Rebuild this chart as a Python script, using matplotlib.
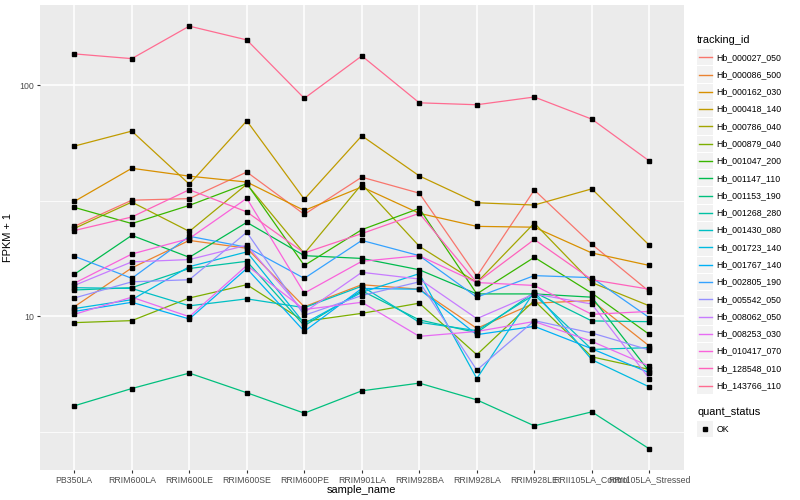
import matplotlib.pyplot as plt
from matplotlib.patches import Rectangle
from matplotlib.ticker import NullLocator

plt.rcParams['font.family'] = ['Liberation Sans', 'DejaVu Sans']

samples = ["PB350LA", "RRIM600LA", "RRIM600LE", "RRIM600SE", "RRIM600PE",
           "RRIM901LA", "RRIM928BA", "RRIM928LA", "RRIM928LE",
           "RRII105LA_Control", "RRII105LA_Stressed"]

# FPKM + 1, one list per gene (same order as samples)
hb_000027_050 = [24.5, 31.8, 32.3, 42.1, 27.6, 40.0, 34.1, 14.9, 35.2, 20.5, 12.8]
hb_000086_500 = [11.0, 16.2, 21.3, 19.7, 11.0, 13.7, 13.1, 8.87, 11.4, 11.7, 7.44]
hb_000162_030 = [31.4, 43.7, 40.4, 38.1, 28.7, 36.3, 27.9, 24.5, 24.3, 18.8, 16.6]
hb_000418_140 = [54.5, 63.3, 37.3, 70.1, 32.1, 60.4, 40.5, 31.0, 30.3, 35.6, 20.3]
hb_000786_040 = [24.0, 31.2, 23.3, 37.3, 18.7, 37.3, 20.1, 14.0, 25.3, 14.0, 11.1]
hb_000879_040 = [9.39, 9.58, 12.0, 13.7, 9.51, 10.3, 11.4, 6.82, 11.7, 6.68, 5.89]
hb_001047_200 = [29.6, 25.2, 30.2, 37.5, 16.6, 23.7, 29.3, 12.5, 18.0, 12.6, 8.35]
hb_001147_110 = [15.2, 22.4, 18.0, 25.5, 18.3, 17.8, 15.9, 12.5, 12.5, 12.1, 5.77]
hb_001153_190 = [4.10, 4.87, 5.68, 4.67, 3.81, 4.76, 5.14, 4.35, 3.36, 3.86, 2.67]
hb_001268_280 = [13.0, 13.3, 16.1, 17.3, 9.11, 12.9, 9.65, 8.50, 12.7, 9.55, 9.48]
hb_001430_080 = [13.3, 13.2, 11.1, 11.9, 10.9, 13.5, 9.42, 8.67, 12.4, 7.19, 7.32]
hb_001723_140 = [10.8, 11.8, 16.4, 19.0, 9.32, 12.7, 15.3, 5.38, 12.8, 6.49, 4.95]
hb_001767_140 = [10.5, 11.5, 9.74, 16.1, 8.61, 13.2, 13.1, 8.33, 9.05, 7.24, 5.70]
hb_002805_190 = [18.2, 14.6, 22.2, 19.9, 14.6, 21.3, 18.3, 12.1, 15.0, 14.7, 9.87]
hb_005542_050 = [12.0, 14.1, 14.4, 23.1, 10.1, 12.3, 14.1, 5.85, 9.58, 8.47, 7.15]
hb_008062_050 = [13.6, 17.2, 17.6, 20.3, 10.4, 15.5, 14.5, 9.77, 12.5, 11.3, 5.38]
hb_008253_030 = [10.2, 12.1, 9.96, 16.6, 10.7, 11.5, 8.19, 8.6, 9.5, 7.79, 6.09]
hb_010417_070 = [13.9, 18.6, 21.7, 32.4, 12.6, 17.3, 18.3, 14.0, 13.6, 10.2, 10.5]
hb_128548_010 = [23.5, 26.9, 35.3, 28.3, 18.8, 22.8, 27.9, 14.0, 21.5, 14.4, 13.1]
hb_143766_110 = [136.6, 130.3, 180.1, 157.0, 87.7, 133.9, 83.9, 82.3, 88.9, 71.3, 47.0]

tracking_ids = ["Hb_000027_050", "Hb_000086_500", "Hb_000162_030", "Hb_000418_140",
                "Hb_000786_040", "Hb_000879_040", "Hb_001047_200", "Hb_001147_110",
                "Hb_001153_190", "Hb_001268_280", "Hb_001430_080", "Hb_001723_140",
                "Hb_001767_140", "Hb_002805_190", "Hb_005542_050", "Hb_008062_050",
                "Hb_008253_030", "Hb_010417_070", "Hb_128548_010", "Hb_143766_110"]
series = [hb_000027_050, hb_000086_500, hb_000162_030, hb_000418_140, hb_000786_040,
          hb_000879_040, hb_001047_200, hb_001147_110, hb_001153_190, hb_001268_280,
          hb_001430_080, hb_001723_140, hb_001767_140, hb_002805_190, hb_005542_050,
          hb_008062_050, hb_008253_030, hb_010417_070, hb_128548_010, hb_143766_110]

# ggplot2 default hue palette for 20 levels
colors = ["#F8766D", "#EA8331", "#D89000", "#C09B00", "#A3A500", "#7CAE00", "#39B600",
          "#00BB4E", "#00BF7D", "#00C1A3", "#00BFC4", "#00BAE0", "#00B0F6", "#35A2FF",
          "#9590FF", "#C77CFF", "#E76BF3", "#FA62DB", "#FF62BC", "#FF6C91"]

fig = plt.figure(figsize=(8, 5), dpi=100)
ax = fig.add_axes([39.8 / 800, 30 / 500, 644 / 800, 465 / 500])
ax.set_facecolor("#EBEBEB")
for s in ax.spines.values():
    s.set_visible(False)

x = list(range(len(samples)))
for vals, c in zip(series, colors):
    ax.plot(x, vals, color=c, lw=0.9, zorder=3)
for vals in series:
    ax.plot(x, vals, ls="none", marker="s", ms=2.3, color="black", zorder=4)

ax.set_yscale("log")
ax.margins(x=0, y=0.05)
ax.autoscale_view()
ax.set_ylim(ax.get_ylim())
ax.set_xlim(-0.6, len(samples) - 0.4)
ax.yaxis.set_minor_locator(NullLocator())
ax.set_yticks([10, 100], ["10", "100"])
ax.set_xticks(x, samples)
for m in [10 ** 0.5, 10 ** 1.5, 10 ** 2.5]:
    ax.axhline(m, color="white", lw=0.55, zorder=1)
ax.grid(True, which="major", color="white", lw=1.1, zorder=1)
ax.set_axisbelow(True)
ax.tick_params(axis="both", length=2, width=0.8, color="#333333",
               labelsize=6.3, labelcolor="#4D4D4D", pad=2)
ax.set_xlabel("sample_name", fontsize=7.9, labelpad=0)
ax.set_ylabel("FPKM + 1", fontsize=7.9, labelpad=5)

# legend drawn by hand in pixel coordinates
lax = fig.add_axes([0, 0, 1, 1], zorder=5)
lax.set_xlim(0, 800)
lax.set_ylim(500, 0)
lax.axis("off")
lax.text(697, 40, "tracking_id", fontsize=7.9, va="center", ha="left")
step = 17.28
for i, (tid, c) in enumerate(zip(tracking_ids, colors)):
    yc = 57.3 + i * step
    lax.add_patch(Rectangle((697.3, yc - step / 2 + 0.5), 15.5, step - 1,
                            facecolor="#F2F2F2", edgecolor="none"))
    lax.plot([698.5, 711.5], [yc, yc], color=c, lw=1.0)
    lax.text(716.7, yc, tid, fontsize=6.3, va="center", ha="left")
lax.text(697, 412.3, "quant_status", fontsize=7.9, va="center", ha="left")
lax.add_patch(Rectangle((697.3, 429.3 - step / 2 + 0.5), 15.5, step - 1,
                        facecolor="#F2F2F2", edgecolor="none"))
lax.plot([705], [429.3], ls="none", marker="s", ms=2.3, color="black")
lax.text(716.7, 429.3, "OK", fontsize=6.3, va="center", ha="left")

fig.savefig("out.png", dpi=100, facecolor="white")
